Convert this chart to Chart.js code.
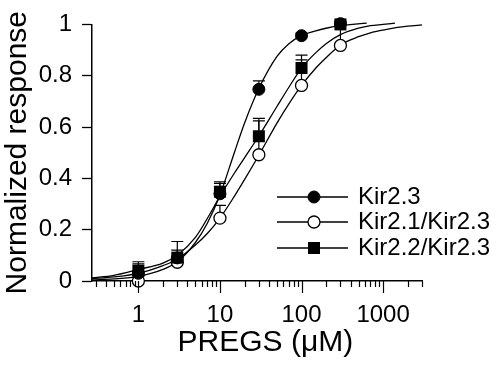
<!DOCTYPE html>
<html>
<head>
<meta charset="utf-8">
<script src="https://cdn.jsdelivr.net/npm/chart.js@4.4.1/dist/chart.umd.min.js"></script>
<style>
  body { margin: 0; background: #fff; }
  #wrap { width: 500px; height: 371px; }
</style>
</head>
<body>
<div id="wrap"><canvas id="doseChart" width="500" height="371"></canvas></div>
<script>
// PREGS concentrations (uM) of the measured points
const concentrations = [1, 3, 10, 30, 100, 300];

// mean normalized response + upper error (SEM)
const kir23 = [0.03, 0.09, 0.34, 0.747, 0.956, 1.003];
const kir23Err = [0.037, 0.03, 0.04, 0.033, 0.01, 0.01];
const kir21 = [0.0, 0.073, 0.245, 0.492, 0.762, 0.918];
const kir21Err = [0.02, 0.02, 0.05, 0.132, 0.1, 0.08];
const kir22 = [0.04, 0.091, 0.348, 0.564, 0.83, 1.0];
const kir22Err = [0.035, 0.063, 0.038, 0.07, 0.05, 0.01];

// fitted curves
const fitX23 = [0.27, 0.5, 1, 2, 3, 5, 7, 10, 15, 20, 30, 50, 70, 100, 150, 200, 300, 630];
const fitY23 = [0.004, 0.008, 0.018, 0.045, 0.075, 0.15, 0.225, 0.335, 0.5, 0.615, 0.75, 0.875, 0.925, 0.956, 0.975, 0.985, 0.995, 1.005];
const fitX21 = [0.27, 0.5, 1, 2, 3, 5, 7, 10, 15, 20, 30, 50, 70, 100, 150, 200, 300, 500, 700, 1000, 1500, 2000, 3000];
const fitY21 = [0.009, 0.016, 0.03, 0.06, 0.085, 0.14, 0.185, 0.245, 0.33, 0.395, 0.49, 0.615, 0.69, 0.762, 0.83, 0.87, 0.92, 0.952, 0.967, 0.978, 0.988, 0.993, 0.998];
const fitX22 = [0.27, 0.5, 1, 2, 3, 5, 7.5, 10, 15, 20, 30, 50, 70, 100, 150, 200, 300, 500, 700, 1000, 1400];
const fitY22 = [0.012, 0.022, 0.045, 0.07, 0.1, 0.17, 0.26, 0.33, 0.42, 0.48, 0.565, 0.68, 0.755, 0.83, 0.89, 0.925, 0.96, 0.985, 0.995, 1.0, 1.005];

// axis ticks
const xTickValues = [0.3, 0.4, 0.5, 0.6, 0.7, 0.8, 0.9, 1, 2, 3, 4, 5, 6, 7, 8, 9,
  10, 20, 30, 40, 50, 60, 70, 80, 90, 100, 200, 300, 400, 500, 600, 700, 800, 900, 1000, 2000, 3000];
const xLabeled = [1, 10, 100, 1000];

const FONT = '"Liberation Sans", Arial, Helvetica, sans-serif';
Chart.defaults.font.family = FONT;
Chart.defaults.color = '#000';

function pts(xs, ys) {
    return xs.map((x, i) => ({ x: x, y: ys[i] }));
}

function drawMarker(ctx, ds, x, y) {
    ctx.save();
    ctx.fillStyle = ds.backgroundColor;
    ctx.strokeStyle = '#000';
    ctx.lineWidth = ds.borderWidth;
    ctx.beginPath();
    if (ds.pointStyle === 'rect') {
        ctx.rect(x - 6, y - 6, 12, 12);
        ctx.fill();
    } else {
        ctx.arc(x, y, ds.pointRadius, 0, Math.PI * 2);
        ctx.fill();
        ctx.stroke();
    }
    ctx.restore();
}

// upper error bars with caps
const errorBarPlugin = {
    id: 'errorBars',
    beforeDatasetsDraw(chart) {
        const { ctx, scales: { x, y } } = chart;
        ctx.save();
        ctx.strokeStyle = '#000';
        ctx.lineWidth = 1.2;
        chart.data.datasets.forEach(ds => {
            if (!ds.errors) return;
            ds.data.forEach((p, i) => {
                const px = x.getPixelForValue(p.x);
                const y0 = y.getPixelForValue(p.y);
                const y1 = y.getPixelForValue(p.y + ds.errors[i]);
                ctx.beginPath();
                ctx.moveTo(px, y0);
                ctx.lineTo(px, y1);
                ctx.moveTo(px - 6, y1);
                ctx.lineTo(px + 6, y1);
                ctx.stroke();
            });
        });
        ctx.restore();
    }
};

// log tick marks: long at decades, short between
const logTicksPlugin = {
    id: 'logTicks',
    afterDraw(chart) {
        const { ctx, chartArea, scales: { x } } = chart;
        ctx.save();
        ctx.strokeStyle = '#000';
        ctx.lineWidth = 1.2;
        xTickValues.forEach(v => {
            const px = Math.round(x.getPixelForValue(v)) + 0.5;
            const len = xLabeled.includes(v) ? 12 : 6;
            ctx.beginPath();
            ctx.moveTo(px, chartArea.bottom);
            ctx.lineTo(px, chartArea.bottom + len);
            ctx.stroke();
        });
        ctx.restore();
    }
};

// legend inside the plot: line through marker, then label
const innerLegendPlugin = {
    id: 'innerLegend',
    afterDatasetsDraw(chart) {
        const ctx = chart.ctx;
        const rows = [197, 222, 248];
        const markers = chart.data.datasets.filter(ds => ds.errors);
        ctx.save();
        ctx.font = '24px ' + FONT;
        ctx.textBaseline = 'middle';
        ctx.textAlign = 'left';
        markers.forEach((ds, i) => {
            const yy = rows[i];
            ctx.strokeStyle = '#000';
            ctx.lineWidth = 1.3;
            ctx.beginPath();
            ctx.moveTo(277, yy);
            ctx.lineTo(348, yy);
            ctx.stroke();
            drawMarker(ctx, ds, 314, yy);
            ctx.fillStyle = '#000';
            ctx.fillText(ds.label, 358, yy);
        });
        ctx.restore();
    }
};

const curveStyle = {
    showLine: true,
    borderColor: '#000',
    borderWidth: 1.3,
    pointRadius: 0,
    cubicInterpolationMode: 'monotone',
    clip: false,
    order: 10
};

const ctx = document.getElementById('doseChart').getContext('2d');
const doseChart = new Chart(ctx, {
    type: 'scatter',
    data: {
        datasets: [
            Object.assign({ label: 'fit Kir2.3', data: pts(fitX23, fitY23) }, curveStyle),
            Object.assign({ label: 'fit Kir2.1/Kir2.3', data: pts(fitX21, fitY21) }, curveStyle),
            Object.assign({ label: 'fit Kir2.2/Kir2.3', data: pts(fitX22, fitY22) }, curveStyle),
            {
                label: 'Kir2.3',
                data: pts(concentrations, kir23),
                errors: kir23Err,
                pointStyle: 'circle',
                pointRadius: 6,
                backgroundColor: '#000',
                borderColor: '#000',
                borderWidth: 1,
                clip: false,
                order: 2
            },
            {
                label: 'Kir2.1/Kir2.3',
                data: pts(concentrations, kir21),
                errors: kir21Err,
                pointStyle: 'circle',
                pointRadius: 6,
                backgroundColor: '#fff',
                borderColor: '#000',
                borderWidth: 1.3,
                clip: false,
                order: 3
            },
            {
                label: 'Kir2.2/Kir2.3',
                data: pts(concentrations, kir22),
                errors: kir22Err,
                pointStyle: 'rect',
                pointRadius: 8.5,
                backgroundColor: '#000',
                borderColor: '#000',
                borderWidth: 0,
                clip: false,
                order: 1
            }
        ]
    },
    options: {
        responsive: false,
        animation: false,
        events: [],
        layout: {
            padding: { left: 3, right: 78, top: 15, bottom: 13.5 }
        },
        scales: {
            x: {
                type: 'logarithmic',
                min: 0.27,
                max: 3000,
                afterBuildTicks: (scale) => {
                    scale.ticks = xTickValues.map(v => ({ value: v }));
                },
                afterFit: (scale) => {
                    scale.height = 76.5;
                },
                ticks: {
                    autoSkip: false,
                    maxRotation: 0,
                    padding: 8,
                    font: { size: 24 },
                    callback: (v) => xLabeled.includes(v) ? String(v) : ''
                },
                grid: {
                    drawOnChartArea: false,
                    tickLength: 12,
                    tickColor: 'rgba(0,0,0,0)'
                },
                border: { color: '#000', width: 1.5 },
                title: {
                    display: true,
                    text: '  PREGS (μM)',
                    padding: 0,
                    font: { size: 30, lineHeight: 1 }
                }
            },
            y: {
                min: 0,
                max: 1,
                afterFit: (scale) => {
                    scale.width = 89;
                },
                ticks: {
                    stepSize: 0.2,
                    padding: 10,
                    font: { size: 24 },
                    callback: (v) => String(parseFloat(v.toFixed(1)))
                },
                grid: {
                    drawOnChartArea: false,
                    tickLength: 10,
                    tickColor: '#000',
                    tickWidth: 1.3
                },
                border: { color: '#000', width: 1.5 },
                title: {
                    display: true,
                    text: 'Normalized response',
                    padding: 0,
                    font: { size: 30, lineHeight: 1 }
                }
            }
        },
        plugins: {
            legend: { display: false },
            tooltip: { enabled: false }
        }
    },
    plugins: [errorBarPlugin, logTicksPlugin, innerLegendPlugin]
});
</script>
</body>
</html>
